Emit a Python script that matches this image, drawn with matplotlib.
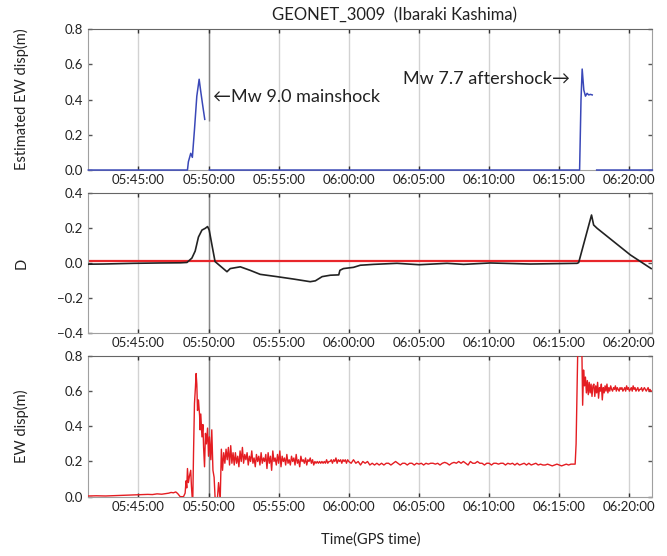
import numpy as np
import pandas as pd
import matplotlib
matplotlib.use('Agg')
import matplotlib.pyplot as plt
import matplotlib.dates as mdates

plt.rcParams['font.family'] = ['Lato', 'DejaVu Sans']

day = '2011-03-11 '
t_start = '05:41:26'
t_end = '06:21:38'
t_mainshock = '05:50:00'

# --- estimated EW displacement (blue), NaN = gap
blue_t = ['05:41:26', '05:48:30', '05:48:34', '05:48:44', '05:48:51', '05:49:00',
          '05:49:10', '05:49:20', '05:49:27', '05:49:36', '05:49:44', '05:49:50',
          '05:50:04', '06:16:27', '06:16:33', '06:16:38', '06:16:45', '06:16:52',
          '06:16:59', '06:17:06', '06:17:13', '06:17:21', '06:17:30', '06:17:40',
          '06:21:38']
blue_v = [0.0, 0.0, 0.047, 0.095, 0.072, 0.23,
          0.42, 0.516, 0.445, 0.36, 0.288, np.nan,
          0.0, 0.0, 0.40, 0.574, 0.455, 0.42,
          0.436, 0.427, 0.43, 0.427, np.nan, 0.0,
          0.0]

# --- D (black)
d_t = ['05:41:26', '05:42:30', '05:44:39', '05:46:30', '05:48:00', '05:48:28',
       '05:48:49', '05:49:03', '05:49:17', '05:49:32', '05:49:46', '05:49:56',
       '05:50:03', '05:50:14', '05:50:28', '05:50:50', '05:51:19', '05:51:33',
       '05:51:54', '05:52:16', '05:52:58', '05:53:41', '05:54:52', '05:56:04',
       '05:57:15', '05:57:37', '05:58:06', '05:58:41', '05:59:17', '05:59:22',
       '05:59:37', '06:00:20', '06:00:49', '06:01:46', '06:03:26', '06:05:01',
       '06:07:00', '06:08:11', '06:10:05', '06:12:56', '06:16:16', '06:16:23',
       '06:17:18', '06:17:27', '06:17:42', '06:18:53', '06:20:04', '06:21:33']
d_v = [-0.005, -0.004, 0.0, 0.002, 0.003, 0.005,
       0.03, 0.07, 0.15, 0.19, 0.20, 0.21,
       0.19, 0.11, 0.01, -0.015, -0.048, -0.03,
       -0.025, -0.02, -0.04, -0.063, -0.076, -0.09,
       -0.105, -0.10, -0.076, -0.068, -0.066, -0.04,
       -0.03, -0.023, -0.011, -0.006, 0.0, -0.008,
       0.0, -0.006, 0.002, -0.004, 0.0, 0.004,
       0.276, 0.219, 0.20, 0.124, 0.048, -0.03]
d_threshold = 0.015

# --- observed EW displacement (red)
red_pre_t = ['05:41:26', '05:42:00', '05:42:40', '05:43:20', '05:44:00', '05:44:40',
             '05:45:10', '05:45:40', '05:46:00', '05:46:20', '05:46:40', '05:47:00',
             '05:47:10', '05:47:20', '05:47:30', '05:47:40', '05:47:48']
red_pre_v = [0.004, 0.005, 0.004, 0.006, 0.008, 0.010,
             0.011, 0.013, 0.012, 0.016, 0.014, 0.018,
             0.020, 0.024, 0.022, 0.027, 0.018]

# seconds relative to 05:50:00
red_main_s = [-121, -107, -100, -96, -93, -90, -86, -81, -76, -73,
              -70, -67, -64, -60, -56, -53, -50, -47, -43, -38,
              -36, -33, -28, -24, -21, -17, -13, -9, -4, 0,
              4, 10, 14, 19, 24, 29, 36, 43]
red_main_v = [0.0, 0.0, 0.02, 0.09, 0.05, 0.16, 0.08, 0.12, 0.15, 0.06,
              0.0, 0.0, 0.25, 0.53, 0.62, 0.70, 0.64, 0.49, 0.55, 0.46,
              0.38, 0.47, 0.34, 0.41, 0.28, 0.17, 0.36, 0.30, 0.39, 0.23,
              0.34, 0.21, 0.38, 0.15, 0.11, -0.03, -0.05, 0.08]

# 5 s samples from 05:50:50
red_c_v = [-0.02, 0.27, 0.15, 0.25, 0.19, 0.27, 0.21, 0.28, 0.18, 0.29, 0.19, 0.25,
           0.18, 0.25, 0.19, 0.23, 0.17, 0.26, 0.20, 0.28, 0.19, 0.24, 0.21, 0.25,
           0.18, 0.23, 0.20, 0.26, 0.19, 0.22, 0.17, 0.24, 0.20, 0.23, 0.18, 0.25,
           0.19, 0.22, 0.20, 0.24, 0.16, 0.25, 0.19, 0.23, 0.15, 0.26, 0.20, 0.22,
           0.18, 0.24, 0.19, 0.26, 0.17, 0.23, 0.20, 0.22, 0.18, 0.24, 0.19, 0.21,
           0.18, 0.23, 0.20, 0.22, 0.18, 0.24, 0.19, 0.21, 0.17, 0.23, 0.20, 0.21,
           0.19, 0.22, 0.18, 0.21, 0.20, 0.22, 0.19, 0.21, 0.18, 0.20, 0.19, 0.20,
           0.19, 0.20, 0.19, 0.20, 0.19, 0.20, 0.19, 0.21, 0.19, 0.20, 0.20, 0.21,
           0.19, 0.21, 0.20, 0.22, 0.19, 0.21, 0.20, 0.21, 0.19, 0.21, 0.20, 0.21,
           0.19, 0.21]

# 10 s samples from 06:00:00
red_d_v = [0.20, 0.19, 0.21, 0.19, 0.20, 0.18,
           0.20, 0.19, 0.20, 0.18, 0.19, 0.18,
           0.19, 0.18, 0.19, 0.18, 0.19, 0.19,
           0.18, 0.19, 0.20, 0.19, 0.18, 0.19,
           0.19, 0.18, 0.19, 0.19, 0.18, 0.19,
           0.185, 0.19, 0.18, 0.19, 0.185, 0.19,
           0.19, 0.185, 0.19, 0.18, 0.19, 0.195,
           0.19, 0.18, 0.19, 0.195, 0.19, 0.20,
           0.19, 0.20, 0.19, 0.18, 0.20, 0.19,
           0.19, 0.20, 0.19, 0.19, 0.18, 0.19,
           0.19, 0.18, 0.19, 0.19, 0.185, 0.19,
           0.19, 0.18, 0.19, 0.185, 0.19, 0.18,
           0.19, 0.18, 0.185, 0.19, 0.18, 0.19,
           0.18, 0.185, 0.19, 0.18, 0.185, 0.18,
           0.18, 0.185, 0.18, 0.175, 0.18, 0.185,
           0.18, 0.175, 0.18, 0.185, 0.18, 0.185,
           0.185]

# 4 s samples from 06:16:08
red_e_v = [0.185, 0.30, 0.60, 0.90, 0.98, 0.95, 1.00, 0.90, 0.52, 0.72,
           0.63, 0.68, 0.59, 0.66, 0.58, 0.65, 0.59, 0.64, 0.57, 0.63,
           0.64, 0.57, 0.63, 0.59, 0.65, 0.56, 0.62, 0.60, 0.64, 0.55,
           0.62, 0.59, 0.63, 0.60, 0.64, 0.59, 0.62, 0.60, 0.63, 0.61,
           0.60, 0.62, 0.61, 0.63, 0.60, 0.62, 0.61, 0.60, 0.62, 0.61,
           0.62, 0.60, 0.61, 0.62, 0.60, 0.63, 0.61, 0.62, 0.60, 0.61,
           0.62, 0.60, 0.63, 0.61, 0.62, 0.60, 0.61, 0.62, 0.60, 0.61,
           0.61, 0.62, 0.60, 0.61, 0.62, 0.61, 0.60, 0.61, 0.62, 0.60,
           0.61, 0.60, 0.60]

x_ticks = ['05:45:00', '05:50:00', '05:55:00', '06:00:00', '06:05:00',
           '06:10:00', '06:15:00', '06:20:00']


def to_time(strings):
    return pd.to_datetime([day + s for s in strings])


def regular(start, step, n):
    return pd.Timestamp(day + start) + pd.to_timedelta(np.arange(n) * step, unit='s')


red_t = np.concatenate([
    to_time(red_pre_t).values,
    (pd.Timestamp(day + t_mainshock) + pd.to_timedelta(red_main_s, unit='s')).values,
    regular('05:50:50', 5, len(red_c_v)).values,
    regular('06:00:00', 10, len(red_d_v)).values,
    regular('06:16:08', 4, len(red_e_v)).values,
])
red_v = red_pre_v + red_main_v + red_c_v + red_d_v + red_e_v

fig = plt.figure(figsize=(6.67, 5.56), dpi=100)
left, width = 0.1324, 0.8456
ax1 = fig.add_axes([left, 0.6942, width, 0.2531])
ax2 = fig.add_axes([left, 0.4005, width, 0.2518])
ax3 = fig.add_axes([left, 0.1067, width, 0.2531])

xlim = (pd.Timestamp(day + t_start), pd.Timestamp(day + t_end))
ticks = to_time(x_ticks)
t_ms = pd.Timestamp(day + t_mainshock)
marker_grey = '#858585'

for ax in (ax1, ax2, ax3):
    ax.set_xlim(xlim)
    ax.set_xticks(ticks)
    ax.xaxis.set_major_formatter(mdates.DateFormatter('%H:%M:%S'))
    for t in ticks:
        ax.axvline(t, color='#d2d2d2', lw=1.0, zorder=0)
    ax.tick_params(axis='x', direction='in', length=3, width=1, color='#333333',
                   top=True, bottom=True, labelsize=9.5, pad=3, labelcolor='#222222')
    ax.tick_params(axis='y', which='both', left=True, right=True, length=3,
                   width=1, color='#555555', labelsize=9.5, labelcolor='#222222', pad=4)
    ax.tick_params(axis='y', direction='in', right=True)
    for s in ('left', 'right', 'bottom'):
        ax.spines[s].set_color('#a0a0a0')
    ax.spines['top'].set_color('#666666')

# panel 1
ax1.plot(to_time(blue_t), blue_v, color='#3a48b8', lw=1.1, zorder=3, clip_on=False)
ax1.vlines(t_ms, 0.28, 0.8, color=marker_grey, lw=1.0, zorder=1)
ax1.set_ylim(0, 0.8)
ax1.set_yticks([0.0, 0.2, 0.4, 0.6, 0.8])
ax1.yaxis.set_major_formatter(plt.FormatStrFormatter('%.1f'))
ax1.set_ylabel('Estimated EW disp(m)', fontsize=10.5, color='#222222')
ax1.text(pd.Timestamp(day + '05:50:20'), 0.415, '\u2190Mw 9.0 mainshock',
         ha='left', va='center', fontsize=13, color='#222222')
ax1.text(pd.Timestamp(day + '06:15:48'), 0.517, 'Mw 7.7 aftershock\u2192',
         ha='right', va='center', fontsize=13, color='#222222')

# panel 2
ax2.axvline(t_ms, color=marker_grey, lw=1.0, zorder=1)
ax2.axhline(d_threshold, color='#e8262b', lw=1.6, zorder=2)
ax2.plot(to_time(d_t), d_v, color='#222222', lw=1.2, zorder=3)
ax2.set_ylim(-0.4, 0.4)
ax2.set_yticks([-0.4, -0.2, 0.0, 0.2, 0.4])
ax2.yaxis.set_major_formatter(plt.FuncFormatter(lambda v, p: f'{v:.1f}'.replace('-', '\u2212')))
ax2.set_ylabel('D', fontsize=10.5, color='#222222')

# panel 3
ax3.axvline(t_ms, color=marker_grey, lw=1.0, zorder=1)
ax3.plot(red_t, red_v, color='#e41d22', lw=1.0, zorder=3)
ax3.set_ylim(0, 0.8)
ax3.set_yticks([0.0, 0.2, 0.4, 0.6, 0.8])
ax3.yaxis.set_major_formatter(plt.FormatStrFormatter('%.1f'))
ax3.set_ylabel('EW disp(m)', fontsize=10.5, color='#222222')
ax3.set_xlabel('Time(GPS time)', fontsize=10.5, color='#222222', labelpad=14)

for ax in (ax1, ax2, ax3):
    ax.yaxis.set_label_coords(-0.105, 0.5)

fig.text(395 / 667, 1 - 15 / 556, 'GEONET_3009  (Ibaraki Kashima)',
         ha='center', va='center', fontsize=12, color='#222222')

fig.savefig('out.png', dpi=100)
